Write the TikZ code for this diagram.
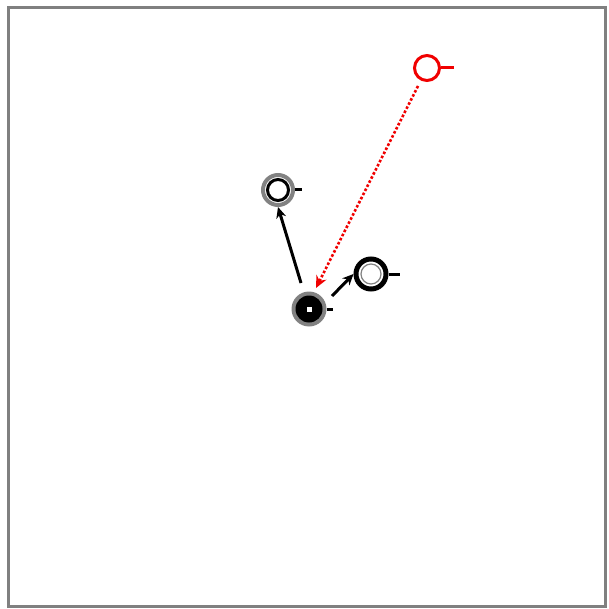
\documentclass[tikz,border=0pt]{standalone}
\usetikzlibrary{arrows.meta}
\definecolor{framegray}{RGB}{128,128,128}
\definecolor{ringgray}{RGB}{130,130,130}
\definecolor{redc}{RGB}{240,0,0}
\begin{document}
\begin{tikzpicture}[x=1pt,y=-1pt,
  tick/.style={line width=3pt},
  conn/.style={line width=3pt,-{Stealth[length=11pt,width=10pt]}},
  redconn/.style={redc,line width=2.6pt,dotted,-{Stealth[length=12pt,width=11pt]}}]
\useasboundingbox (0,0) rectangle (608,609);
\draw[framegray,line width=3pt] (8,8) rectangle (605,606);
% red node
\node[circle,draw=redc,line width=3pt,minimum size=25pt,inner sep=0pt] (r) at (427,68) {};
\draw[redc,tick] (r.east) -- ++(13,0);
% gray ring node
\node[circle,draw=ringgray,line width=4pt,minimum size=30pt,inner sep=0pt] (g) at (278,190) {};
\node[circle,draw=black,line width=3pt,minimum size=21pt,inner sep=0pt] (gi) at (278,190) {};
\draw[tick] (g.east) -- ++(7,0);
% black filled node
\node[circle,fill=ringgray,minimum size=35pt,inner sep=0pt] (b) at (309,309) {};
\node[circle,fill=black,minimum size=27pt,inner sep=0pt] (bi) at (309,309) {};
\node[fill=white,minimum size=5pt,inner sep=0pt] (bc) at (309,309) {};
\draw[tick] (b.east) -- ++(6,0);
% black ring node
\node[circle,draw=black,line width=5pt,minimum size=30pt,inner sep=0pt] (k) at (371,274) {};
\node[circle,draw=ringgray,line width=1.2pt,minimum size=20pt,inner sep=0pt] (ki) at (371,274) {};
\draw[tick] (k.east) -- ++(11,0);
% connectors
\coordinate (s1) at (301,283);
\coordinate (s2) at (332,296);
\coordinate (s3) at (418,86);
\coordinate (e3) at (316,288);
\draw[conn] (s1) -- (g.south);
\draw[conn] (s2) -- (k.west);
\draw[redconn] (s3) -- (e3);
\end{tikzpicture}
\end{document}
